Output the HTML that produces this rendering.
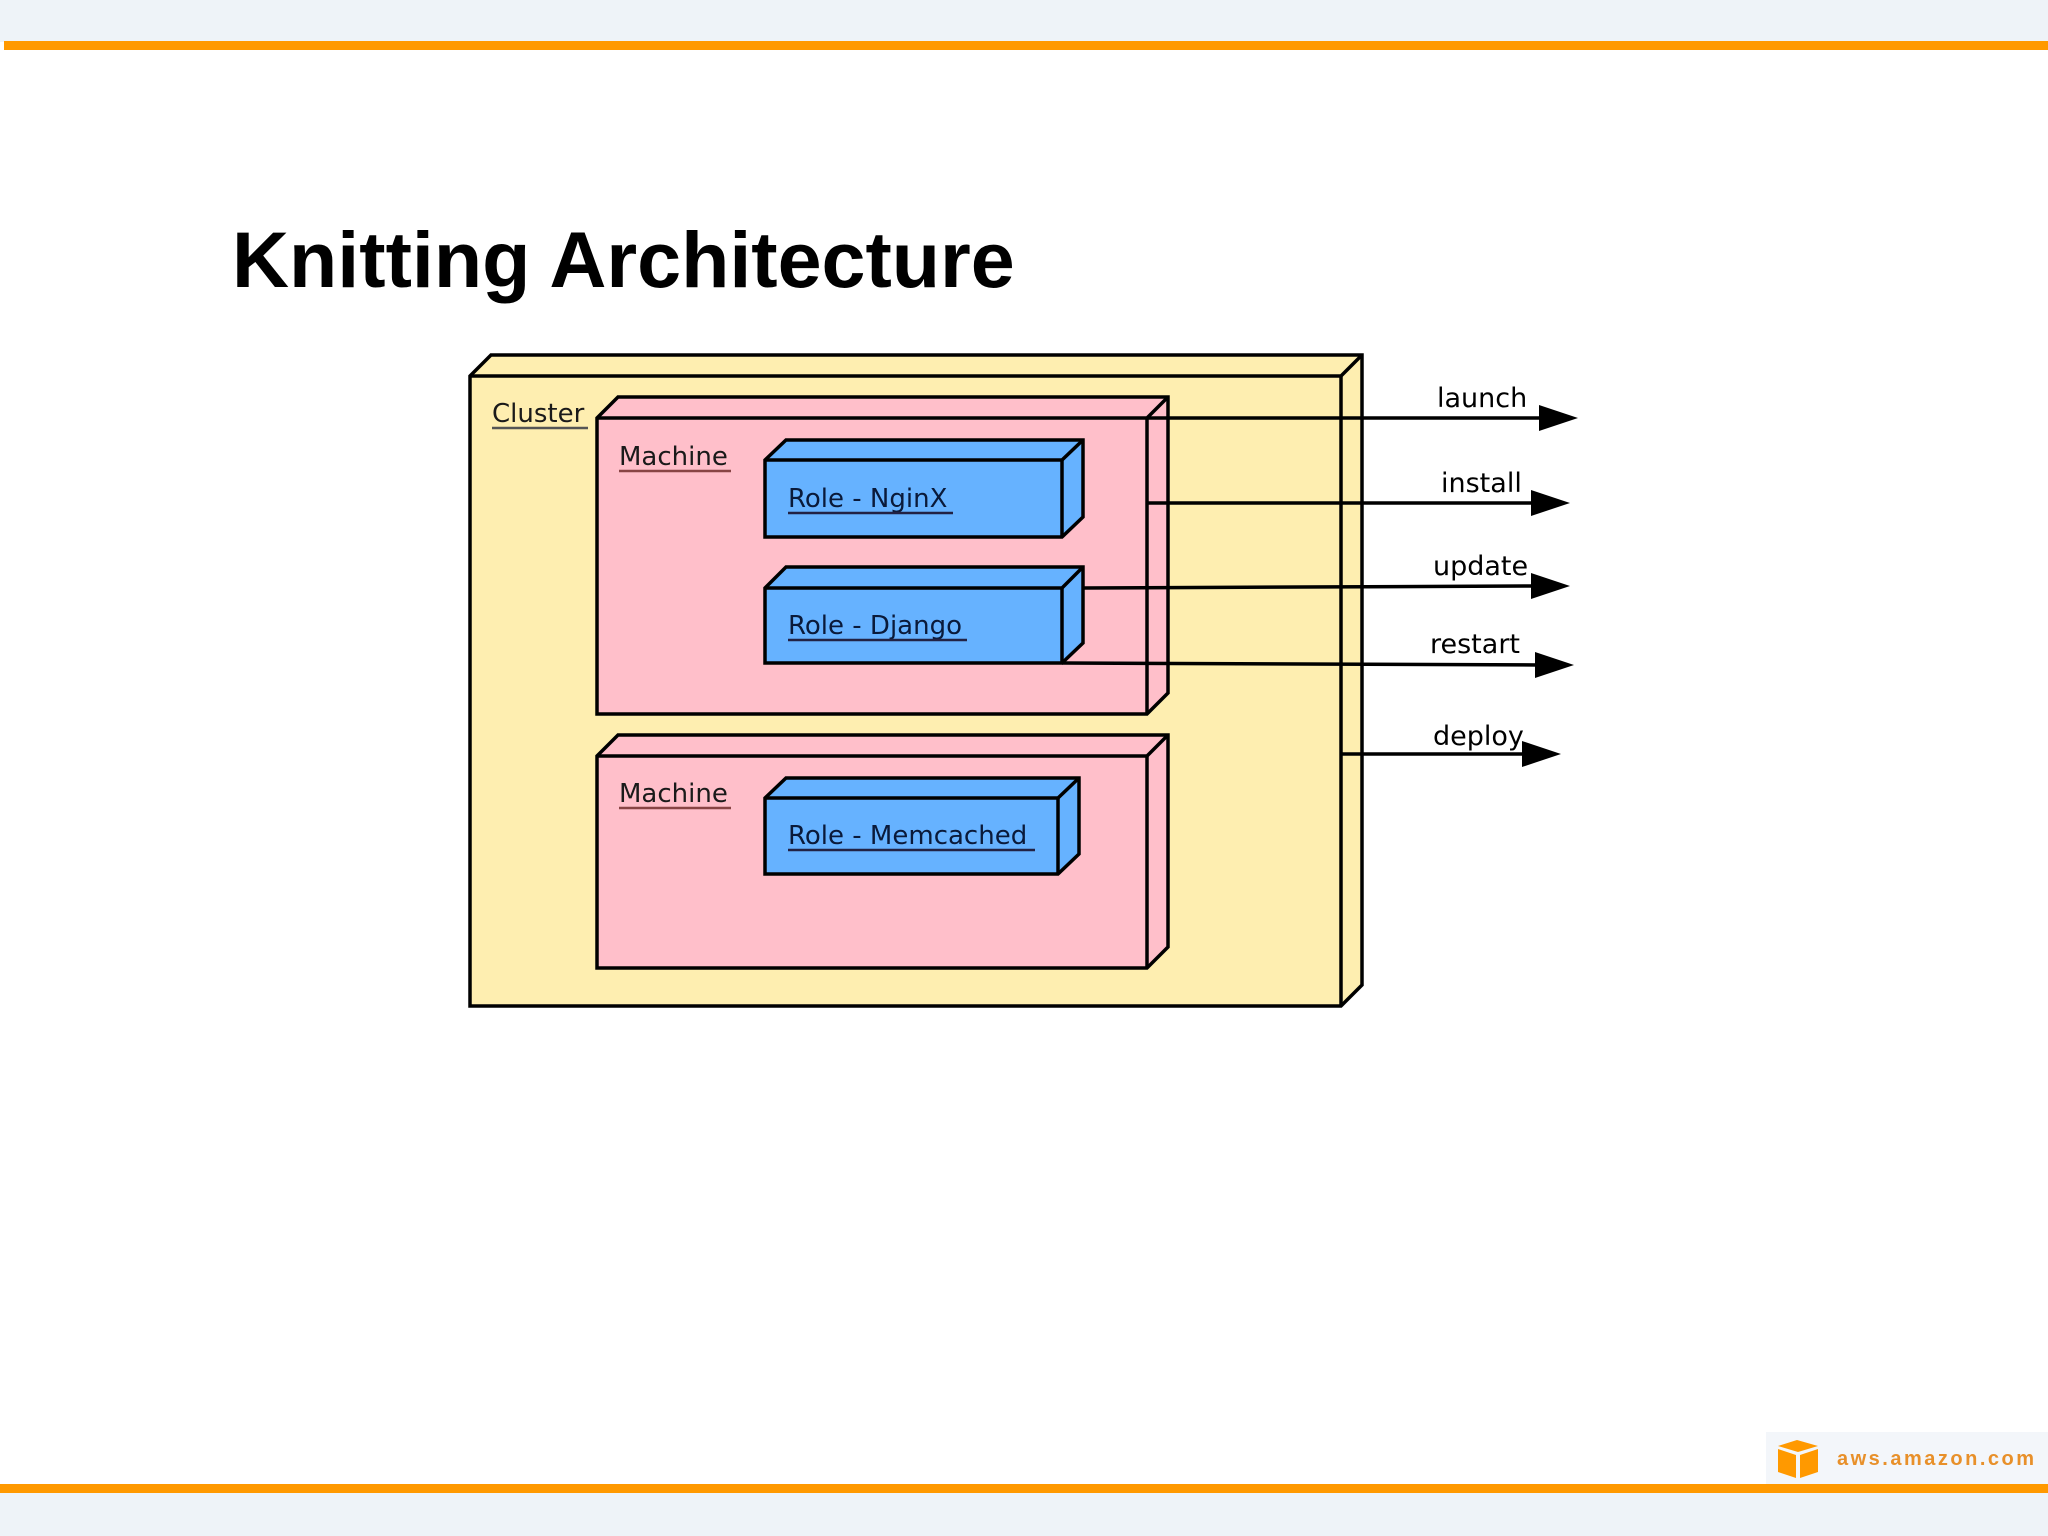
<!DOCTYPE html>
<html><head><meta charset="utf-8"><style>
html,body{margin:0;padding:0;background:#fff;}
svg{display:block;}
</style></head><body>
<svg width="2048" height="1536" viewBox="0 0 2048 1536" xmlns="http://www.w3.org/2000/svg" font-family="'DejaVu Sans', 'Liberation Sans', sans-serif">
<rect x="0" y="0" width="2048" height="1536" fill="#fff"/>
<rect x="0" y="0" width="2048" height="42" fill="#eef3f8"/>
<rect x="4" y="41" width="2044" height="9" fill="#ff9900"/>
<rect x="0" y="1493" width="2048" height="43" fill="#eef3f8"/>
<rect x="1766" y="1432" width="282" height="52" fill="#f3f6fa"/>
<rect x="0" y="1484" width="2048" height="9" fill="#ff9900"/>
<!-- logo -->
<g fill="#ff9900">
<polygon points="1778,1446 1797,1440 1818,1446 1798,1452"/>
<polygon points="1778,1449 1796,1455 1796,1478 1778,1472"/>
<polygon points="1800,1455 1818,1449 1818,1472 1800,1478"/>
</g>
<text x="1837" y="1465" font-family="'Liberation Sans', sans-serif" font-weight="bold" font-size="20" fill="#e8902a" letter-spacing="2.5">aws.amazon.com</text>
<!-- title -->
<text x="232" y="287" font-family="'Liberation Sans', sans-serif" font-weight="bold" font-size="79" fill="#000">Knitting Architecture</text>

<g stroke="#000" stroke-width="3.5" stroke-linejoin="miter">
<polygon points="470,376 491,355 1362,355 1362,985 1341,1006 470,1006" fill="#feeeb0"/>
<polyline points="470,376 1341,376 1362,355" fill="none"/>
<line x1="1341" y1="376" x2="1341" y2="1006"/>
<polygon points="597,418 618,397 1168,397 1168,693 1147,714 597,714" fill="#ffbfca"/>
<polyline points="597,418 1147,418 1168,397" fill="none"/>
<line x1="1147" y1="418" x2="1147" y2="714"/>
<polygon points="597,756 618,735 1168,735 1168,947 1147,968 597,968" fill="#ffbfca"/>
<polyline points="597,756 1147,756 1168,735" fill="none"/>
<line x1="1147" y1="756" x2="1147" y2="968"/>
<polygon points="765,460 786,440 1083,440 1083,517 1062,537 765,537" fill="#66b2ff"/>
<polyline points="765,460 1062,460 1083,440" fill="none"/>
<line x1="1062" y1="460" x2="1062" y2="537"/>
<polygon points="765,588 786,567 1083,567 1083,643 1062,663 765,663" fill="#66b2ff"/>
<polyline points="765,588 1062,588 1083,567" fill="none"/>
<line x1="1062" y1="588" x2="1062" y2="663"/>
<polygon points="765,798 786,778 1079,778 1079,854 1058,874 765,874" fill="#66b2ff"/>
<polyline points="765,798 1058,798 1079,778" fill="none"/>
<line x1="1058" y1="798" x2="1058" y2="874"/>
<line x1="1147" y1="418" x2="1545" y2="418"/>
<line x1="1147" y1="503" x2="1538" y2="503"/>
<line x1="1083" y1="588" x2="1538" y2="586"/>
<line x1="1062" y1="663" x2="1540" y2="665"/>
<line x1="1341" y1="754" x2="1528" y2="754"/>
</g>
<g fill="#000">
<polygon points="1539,405 1578,418 1539,431"/>
<polygon points="1531,490 1570,503 1531,516"/>
<polygon points="1531,573 1570,586 1531,599"/>
<polygon points="1535,652 1574,665 1535,678"/>
<polygon points="1522,741 1561,754 1522,767"/>
</g>
<g font-size="27" fill="#000">
<text x="1437" y="407">launch</text>
<text x="1441" y="492">install</text>
<text x="1433" y="575">update</text>
<text x="1430" y="653">restart</text>
<text x="1433" y="745">deploy</text>
</g>
<g font-size="26">
<text x="492" y="422" fill="#1a1a1a">Cluster</text>
<line x1="492" y1="428" x2="588" y2="428" stroke="#555" stroke-width="2.5"/>
<text x="619" y="465" fill="#1a1a1a">Machine</text>
<line x1="619" y1="471" x2="731" y2="471" stroke="#844" stroke-width="2.5"/>
<text x="619" y="802" fill="#1a1a1a">Machine</text>
<line x1="619" y1="808" x2="731" y2="808" stroke="#844" stroke-width="2.5"/>
<text x="788" y="507" fill="#0a1a3a">Role - NginX</text>
<line x1="788" y1="513" x2="953" y2="513" stroke="#224" stroke-width="2.5"/>
<text x="788" y="634" fill="#0a1a3a">Role - Django</text>
<line x1="788" y1="640" x2="967" y2="640" stroke="#224" stroke-width="2.5"/>
<text x="788" y="844" fill="#0a1a3a">Role - Memcached</text>
<line x1="788" y1="850" x2="1035" y2="850" stroke="#224" stroke-width="2.5"/>
</g>
</svg>
</body></html>
